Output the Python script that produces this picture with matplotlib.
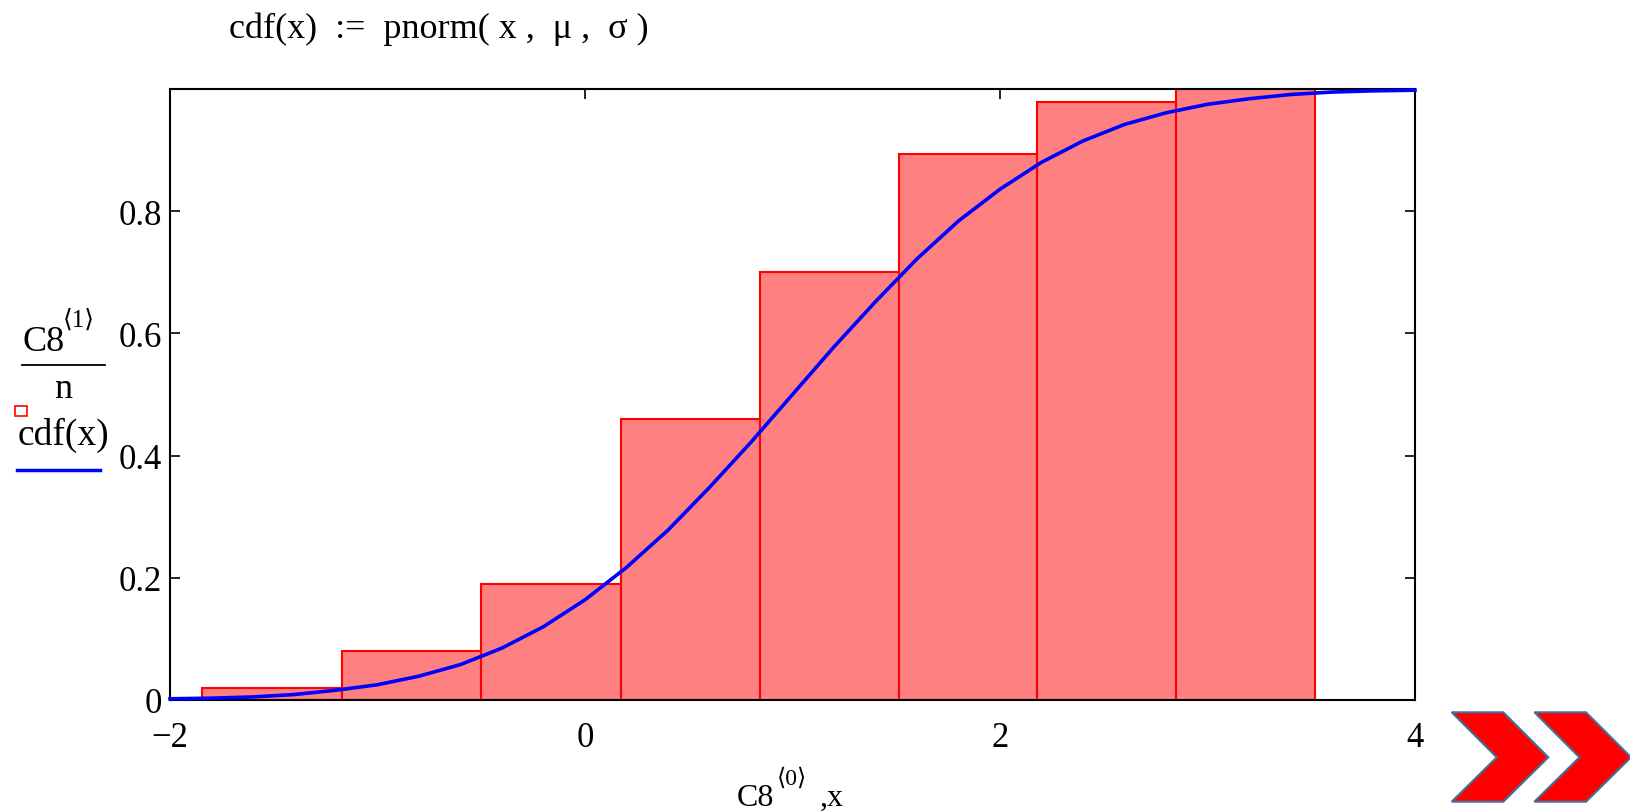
import matplotlib.pyplot as plt
from matplotlib.patches import Polygon, Rectangle
from matplotlib.lines import Line2D

# bin edges and relative cumulative frequencies C8<1>/n
bin_edges = [-1.845, -1.17, -0.50, 0.175, 0.845, 1.515, 2.18, 2.85, 3.52]
cum_freq = [0.02, 0.08, 0.19, 0.46, 0.70, 0.893, 0.979, 1.0]

# cdf(x) curve, points
curve_x = [-2.0, -1.8, -1.6, -1.4, -1.2, -1.0, -0.8, -0.6, -0.4, -0.2, 0.0,
           0.2, 0.4, 0.6, 0.8, 1.0, 1.2, 1.4, 1.6, 1.8, 2.0, 2.2, 2.4, 2.6,
           2.8, 3.0, 3.2, 3.4, 3.6, 3.8, 4.0]
curve_y = [0.002, 0.003, 0.005, 0.009, 0.016, 0.025, 0.039, 0.058, 0.085,
           0.120, 0.164, 0.217, 0.278, 0.348, 0.422, 0.500, 0.578, 0.652,
           0.722, 0.784, 0.836, 0.880, 0.915, 0.942, 0.961, 0.975, 0.984,
           0.991, 0.995, 0.997, 0.998]

x_ticks = [-2, 0, 2, 4]
x_labels = ['\u22122', '0', '2', '4']
y_ticks = [0, 0.2, 0.4, 0.6, 0.8]
y_labels = ['0', '0.2', '0.4', '0.6', '0.8']

W, H = 1631, 812
serif = ['Liberation Serif', 'DejaVu Sans']
plt.rcParams['font.family'] = serif


def px(x, y):
    return x / W, 1 - y / H


fig = plt.figure(figsize=(W / 100, H / 100), dpi=100)
ax = fig.add_axes([170 / W, 1 - 701 / H, 1245 / W, 611 / H])

widths = [b - a for a, b in zip(bin_edges[:-1], bin_edges[1:])]
ax.bar(bin_edges[:-1], cum_freq, width=widths, align='edge',
       color='#FF8080', edgecolor='#FF0000', linewidth=1.5, zorder=2)
ax.plot(curve_x, curve_y, color='#0000FF', linewidth=2.6, zorder=5,
        clip_on=False)

ax.set_xlim(-2, 4)
ax.set_ylim(0, 1)
ax.set_xticks(x_ticks)
ax.set_xticklabels(x_labels)
ax.set_yticks(y_ticks)
ax.set_yticklabels(y_labels)
ax.tick_params(direction='in', length=7, width=1.2, top=True, right=True,
               labelsize=25, colors='black')
ax.tick_params(axis='y', pad=6)
ax.tick_params(axis='x', pad=15)
for s in ax.spines.values():
    s.set_linewidth(1.5)
    s.set_zorder(3)

# title expression
fig.text(*px(229, 38), 'cdf(x)  :=  pnorm( x ,  \u03bc ,  \u03c3 )', fontsize=26,
         ha='left', va='baseline')

# y-axis label block
fig.text(*px(23, 351), 'C8', fontsize=26, ha='left', va='baseline')
fig.text(*px(63, 327), '\u27e81\u27e9', fontsize=18, ha='left', va='baseline')
fig.add_artist(Line2D([22 / W, 105 / W], [1 - 366 / H, 1 - 366 / H],
                      color='black', linewidth=1.3))
fig.text(*px(63, 398), 'n', fontsize=26, ha='center', va='baseline')
fig.add_artist(Rectangle(px(15, 417), 12 / W, 10 / H, fill=False,
                         edgecolor='#FF0000', linewidth=1.2))
fig.text(*px(18, 445), 'cdf(x)', fontsize=27, ha='left', va='baseline')
fig.add_artist(Line2D([17 / W, 100 / W], [1 - 471 / H, 1 - 471 / H],
                      color='#0000FF', linewidth=2.5))

# x-axis label
fig.text(*px(737, 806), 'C8', fontsize=23, ha='left', va='baseline')
fig.text(*px(777, 785), '\u27e80\u27e9', fontsize=17, ha='left', va='baseline')
fig.text(*px(820, 806), ',x', fontsize=23, ha='left', va='baseline')

# navigation chevrons in the corner
for dx in [0, 82.7]:
    pts = [(1451.7, 713.3), (1503.3, 713.3), (1548.3, 758.3),
           (1503.3, 802.7), (1451.7, 802.7), (1496.7, 758.3)]
    fig.add_artist(Polygon([px(x + dx, y) for x, y in pts], closed=True,
                           facecolor='#FF0000', edgecolor='#41719C',
                           linewidth=1.5))

fig.savefig('out.png', dpi=100)
